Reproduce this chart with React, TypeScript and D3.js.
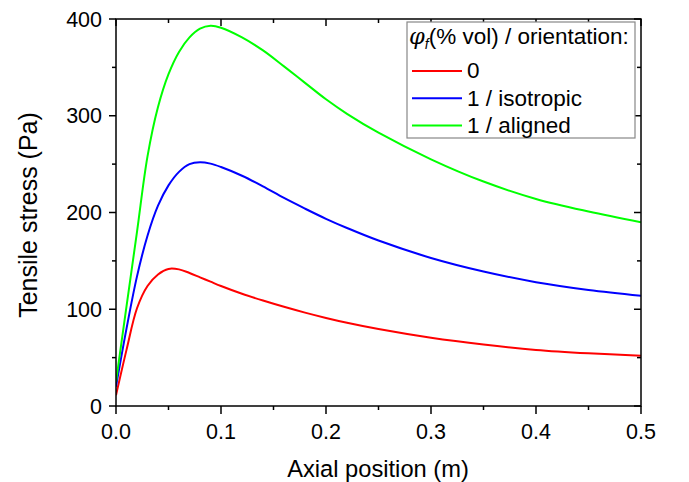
import React from "react";
import * as d3 from "d3";

const xs = [0, 0.01, 0.02, 0.03, 0.04, 0.05, 0.06, 0.07, 0.08, 0.09, 0.1, 0.12, 0.14, 0.16, 0.18, 0.2, 0.22, 0.25, 0.3, 0.35, 0.4, 0.45, 0.5];
const red = [11, 58, 101, 124, 136, 141.7, 141.2, 137.5, 133, 128.5, 124, 116, 109, 102.5, 96.5, 91, 86, 79.5, 70.5, 63.5, 58, 54.5, 52];
const blue = [20, 80, 134, 176, 207, 228, 242, 250, 252, 250.5, 247, 238, 227, 215, 204, 193.5, 184, 171, 153, 139, 128, 120, 114];
const green = [25, 103, 180, 258, 309, 343, 366, 381, 390, 393, 391, 381, 367.5, 351, 334, 317, 302, 282.5, 255, 232, 214, 201, 190];

const seriesNames = ["0", "1 / isotropic", "1 / aligned"];
const seriesColors = ["#ff0000", "#0000ff", "#00ff00"];
const seriesValues = [red, blue, green];

const xMajor = [0, 0.1, 0.2, 0.3, 0.4, 0.5];
const xMinor = [0.05, 0.15, 0.25, 0.35, 0.45];
const yMajor = [0, 100, 200, 300, 400];
const yMinor = [50, 150, 250, 350];

const L = 116, R = 641, T = 19, B = 406;
const FONT = "'Liberation Sans', Arial, sans-serif";

export default function App() {
  const x = d3.scaleLinear().domain([0, 0.5]).range([L, R]);
  const y = d3.scaleLinear().domain([0, 400]).range([B, T]);
  const line = d3
    .line<[number, number]>()
    .x((d) => x(d[0]))
    .y((d) => y(d[1]))
    .curve(d3.curveCatmullRom.alpha(0.5));

  return (
    <svg width={689} height={482} style={{ position: "absolute", left: 0, top: 0, background: "#fff" }} fontFamily={FONT}>
      <rect x={0} y={0} width={689} height={482} fill="#fff" />
      <defs>
        <clipPath id="plot">
          <rect x={L} y={T} width={R - L} height={B - T} />
        </clipPath>
      </defs>
      <g clipPath="url(#plot)">
        {seriesValues.map((vals, i) => (
          <path
            key={i}
            d={line(xs.map((xv, j) => [xv, vals[j]] as [number, number])) || ""}
            fill="none"
            stroke={seriesColors[i]}
            strokeWidth={2}
          />
        ))}
      </g>
      <rect x={L} y={T} width={R - L} height={B - T} fill="none" stroke="#000" strokeWidth={1.5} />
      {xMajor.map((v) => (
        <g key={"xM" + v}>
          <line x1={x(v)} x2={x(v)} y1={B} y2={B + 8} stroke="#000" strokeWidth={1.5} />
          <line x1={x(v)} x2={x(v)} y1={T} y2={T + 7} stroke="#000" strokeWidth={1.5} />
          <text x={x(v)} y={439} textAnchor="middle" fontSize={21.5} fill="#000">
            {v.toFixed(1)}
          </text>
        </g>
      ))}
      {xMinor.map((v) => (
        <g key={"xm" + v}>
          <line x1={x(v)} x2={x(v)} y1={B} y2={B + 4} stroke="#000" strokeWidth={1.5} />
          <line x1={x(v)} x2={x(v)} y1={T} y2={T + 4} stroke="#000" strokeWidth={1.5} />
        </g>
      ))}
      {yMajor.map((v) => (
        <g key={"yM" + v}>
          <line x1={L - 7} x2={L} y1={y(v)} y2={y(v)} stroke="#000" strokeWidth={1.5} />
          <line x1={R - 7} x2={R} y1={y(v)} y2={y(v)} stroke="#000" strokeWidth={1.5} />
          <text x={102} y={y(v) + 7.5} textAnchor="end" fontSize={21.5} fill="#000">
            {v}
          </text>
        </g>
      ))}
      {yMinor.map((v) => (
        <g key={"ym" + v}>
          <line x1={L - 4} x2={L} y1={y(v)} y2={y(v)} stroke="#000" strokeWidth={1.5} />
          <line x1={R - 4} x2={R} y1={y(v)} y2={y(v)} stroke="#000" strokeWidth={1.5} />
        </g>
      ))}
      <text x={378} y={476.5} textAnchor="middle" fontSize={23.7} fill="#000">
        Axial position (m)
      </text>
      <text transform="translate(37, 215) rotate(-90)" textAnchor="middle" fontSize={25} fill="#000">
        Tensile stress (Pa)
      </text>
      <g>
        <rect x={407} y={22} width={228} height={116} fill="#fff" stroke="#888" strokeWidth={1.2} />
        <text x={409} y={43.5} fontSize={22.5} fill="#000">
          <tspan fontFamily="'DejaVu Serif', 'Liberation Serif', serif" fontStyle="italic">φ</tspan>
          <tspan fontSize={14} dy={5} fontStyle="italic">f</tspan>
          <tspan dy={-5}>(% vol) / orientation:</tspan>
        </text>
        {seriesNames.map((name, i) => (
          <g key={name}>
            <line x1={412} x2={462} y1={71 + i * 27.3} y2={71 + i * 27.3} stroke={seriesColors[i]} strokeWidth={2} />
            <text x={467} y={78.3 + i * 27.3} fontSize={22.5} fill="#000">
              {name}
            </text>
          </g>
        ))}
      </g>
    </svg>
  );
}
